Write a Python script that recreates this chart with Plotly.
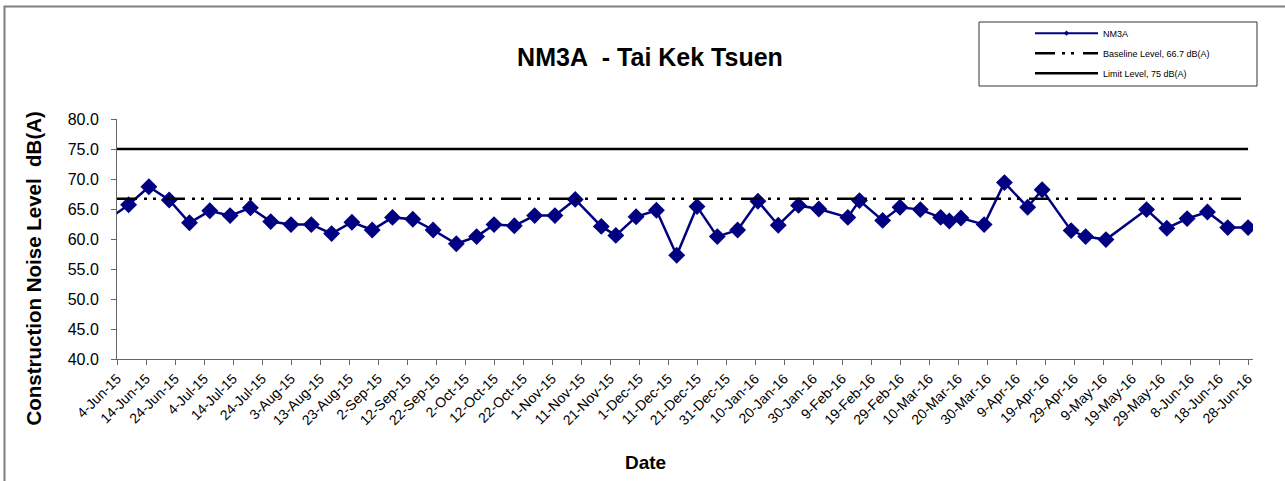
import plotly.graph_objects as go

# ---- data ----
dates = ['2015-06-01', '2015-06-08', '2015-06-15', '2015-06-22', '2015-06-29', '2015-07-06',
         '2015-07-13', '2015-07-20', '2015-07-27', '2015-08-03', '2015-08-10', '2015-08-17',
         '2015-08-24', '2015-08-31', '2015-09-07', '2015-09-14', '2015-09-21', '2015-09-29',
         '2015-10-06', '2015-10-12', '2015-10-19', '2015-10-26', '2015-11-02', '2015-11-09',
         '2015-11-18', '2015-11-23', '2015-11-30', '2015-12-07', '2015-12-14', '2015-12-21',
         '2015-12-28', '2016-01-04', '2016-01-11', '2016-01-18', '2016-01-25', '2016-02-01',
         '2016-02-11', '2016-02-15', '2016-02-23', '2016-02-29', '2016-03-07', '2016-03-14',
         '2016-03-17', '2016-03-21', '2016-03-29', '2016-04-05', '2016-04-13', '2016-04-18',
         '2016-04-28', '2016-05-03', '2016-05-10', '2016-05-24', '2016-05-31', '2016-06-07',
         '2016-06-14', '2016-06-21', '2016-06-28']
nm3a = [63.3, 65.7, 68.7, 66.5, 62.7, 64.7,
        63.9, 65.2, 62.9, 62.4, 62.4, 60.9,
        62.8, 61.5, 63.6, 63.3, 61.5, 59.2,
        60.4, 62.4, 62.2, 63.9, 63.9, 66.6,
        62.1, 60.6, 63.7, 64.8, 57.3, 65.4,
        60.4, 61.5, 66.3, 62.3, 65.6, 65.0,
        63.6, 66.4, 63.1, 65.3, 64.9, 63.6,
        63.0, 63.5, 62.4, 69.4, 65.3, 68.2,
        61.4, 60.4, 59.9, 64.9, 61.8, 63.4,
        64.5, 61.9, 61.9]
limit_dates = ['2015-06-04', '2016-06-28']
baseline_dates = ['2015-06-04', '2016-06-26']
baseline_level = 66.7
limit_level = 75
series_names = ['NM3A', 'Baseline Level, 66.7 dB(A)', 'Limit Level, 75 dB(A)']
x_start = '2015-06-04'
x_end = '2016-06-29 17:00'

FONT = 'Arial, Liberation Sans, sans-serif'
NAVY = '#000080'

fig = go.Figure()
fig.add_trace(go.Scatter(x=dates, y=nm3a, mode='lines+markers', showlegend=False,
                         line=dict(color=NAVY, width=2.5),
                         marker=dict(symbol='diamond', size=13, color=NAVY),
                         cliponaxis=True))
# legend entry for the data series (small marker as in the original legend)
fig.add_trace(go.Scatter(x=[None], y=[None], mode='lines+markers', name=series_names[0],
                         line=dict(color=NAVY, width=2), marker=dict(symbol='diamond', size=4, color=NAVY),
                         legendgroup='a'))
fig.add_trace(go.Scatter(x=baseline_dates, y=[baseline_level] * len(baseline_dates), mode='lines',
                         name=series_names[1], legendgroup='b',
                         line=dict(color='black', width=2.5, dash='20px,7px,3px,6px,3px,9px')))
fig.add_trace(go.Scatter(x=limit_dates, y=[limit_level] * len(limit_dates), mode='lines',
                         name=series_names[2], legendgroup='c',
                         line=dict(color='black', width=2.5)))

W, H = 1285, 481
PX0, PX1, PY0, PY1 = 117, 1253, 119, 359     # plot area in page pixels
L, T = PX0, PY0
R, B = W - PX1, H - PY1
pw, ph = PX1 - PX0, PY1 - PY0

def px(xp):
    return (xp - PX0) / pw

def py(yp):
    return (PY1 - yp) / ph

fig.update_layout(
    width=W, height=H,
    margin=dict(l=L, r=R, t=T, b=B, autoexpand=False),
    paper_bgcolor='white', plot_bgcolor='white',
    font=dict(family=FONT, color='black'),
    title=dict(text='NM3A\u00a0 - Tai Kek Tsuen', x=650 / W, xanchor='center',
               y=1 - 57 / H, yanchor='middle', font=dict(size=25, family=FONT, weight='bold')),
    showlegend=True,
    legend=dict(x=px(1030), y=py(18.7), xanchor='left', yanchor='top',
                bgcolor='rgba(0,0,0,0)', borderwidth=0,
                font=dict(size=9, family=FONT), itemwidth=63, tracegroupgap=1,
                traceorder='grouped'),
    xaxis=dict(type='date', range=[x_start, x_end], tick0=x_start, dtick=10 * 86400000,
               tickformat='%-d-%b-%y', tickangle=-45, ticks='outside', ticklen=5,
               tickcolor='#666', showline=True, linecolor='#666', linewidth=1,
               showgrid=False, zeroline=False, tickfont=dict(size=14, family=FONT)),
    yaxis=dict(range=[40, 80], dtick=5, tickformat='.1f', ticks='outside', ticklen=5,
               tickcolor='#666', showline=True, linecolor='#666', linewidth=1,
               showgrid=False, zeroline=False, ticklabelstandoff=9,
               tickfont=dict(size=16, family=FONT)),
    shapes=[
        dict(type='rect', xref='paper', yref='paper', x0=px(4.5), x1=1.2, y0=-1, y1=py(6.5),
             line=dict(color='#7f7f7f', width=2), fillcolor='rgba(0,0,0,0)', layer='below'),
        dict(type='rect', xref='paper', yref='paper', x0=px(979), x1=px(1257), y0=py(86), y1=py(22),
             line=dict(color='#333', width=1), fillcolor='white', layer='below'),
    ],
    annotations=[
        dict(text='Construction Noise Level\u00a0 dB(A)', xref='paper', yref='paper',
             x=px(33), y=py(268.5), textangle=-90, showarrow=False, xanchor='center', yanchor='middle',
             font=dict(size=20.5, family=FONT, weight='bold')),
        dict(text='Date', xref='paper', yref='paper', x=px(645), y=py(462), showarrow=False,
             xanchor='center', yanchor='middle', font=dict(size=19, family=FONT, weight='bold')),
    ],
)

# remove the default 8px page margin so the figure fills the window exactly
fig.write_html('out.html', config={'displayModeBar': False},
               post_script="document.body.style.margin='0';document.body.style.overflow='hidden';")
